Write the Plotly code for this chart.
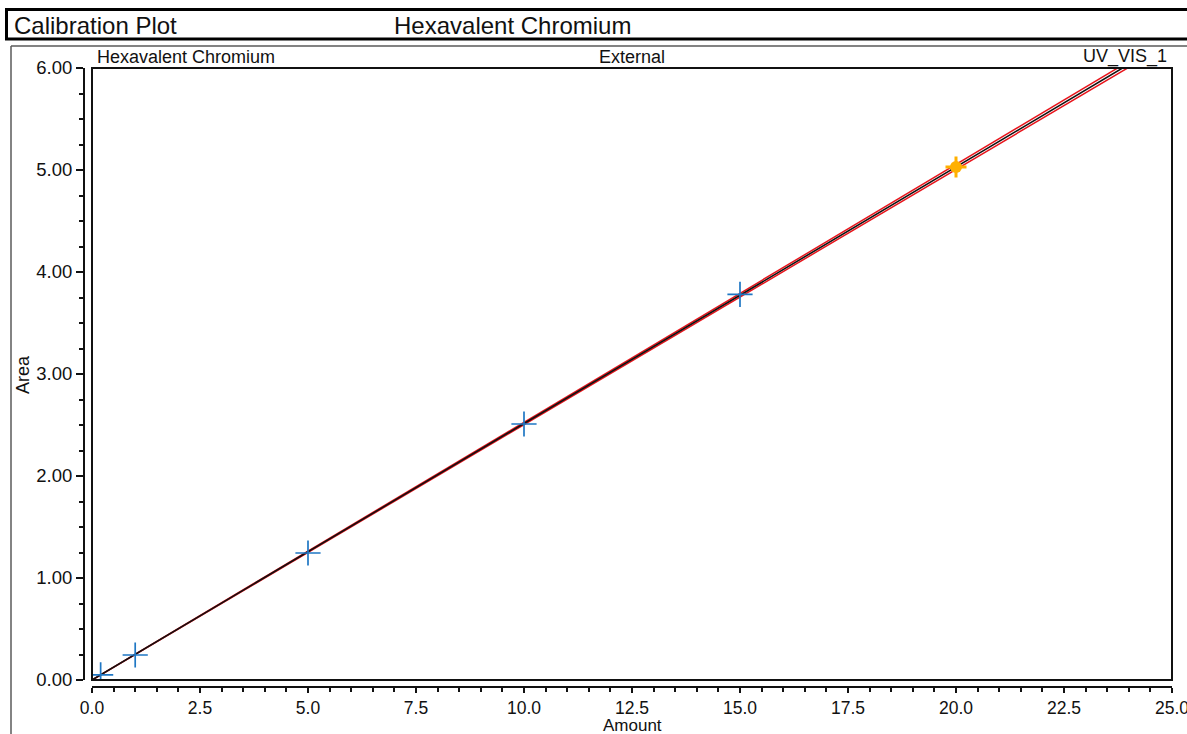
import plotly.graph_objects as go

W, H = 1187, 734

# Calibration standards (amount vs. peak area)
std_amount = [0.2, 1.0, 5.0, 10.0, 15.0]
std_area = [0.05, 0.245, 1.245, 2.51, 3.78]

# Highlighted standard
hl_amount = [20.0]
hl_area = [5.03]

# Linear fit through origin and its confidence limits
fit_amount = [0.0, 25.0]
fit_area = [0.0, 6.2875]
upper_area = [0.0, 6.318]
lower_area = [0.0, 6.257]

x_range = [0, 25]
y_range = [0, 6]

FONT = "Liberation Sans, Arial, sans-serif"


def px(x):
    return x / W


def py(y):
    return 1 - y / H


fig = go.Figure()

fig.add_trace(go.Scatter(x=fit_amount, y=upper_area, mode="lines",
                         line=dict(color="#e8141b", width=1.5), hoverinfo="skip"))
fig.add_trace(go.Scatter(x=fit_amount, y=lower_area, mode="lines",
                         line=dict(color="#e8141b", width=1.5), hoverinfo="skip"))
fig.add_trace(go.Scatter(x=fit_amount, y=fit_area, mode="lines",
                         line=dict(color="#111111", width=1.6), hoverinfo="skip"))

fig.add_trace(go.Scatter(x=hl_amount, y=hl_area, mode="markers",
                         marker=dict(symbol="circle", size=12, color="#ffb000",
                                     line=dict(width=0))))
fig.add_trace(go.Scatter(x=hl_amount, y=hl_area, mode="markers",
                         marker=dict(symbol="cross-thin-open", size=15, color="#ffb000",
                                     line=dict(color="#ffb000", width=3))))

fig.add_trace(go.Scatter(x=std_amount, y=std_area, mode="markers",
                         marker=dict(symbol="cross-thin-open", size=18, color="#1f77c4",
                                     line=dict(color="#1f77c4", width=1.7))))

fig.update_layout(
    width=W, height=H,
    margin=dict(l=0, r=0, t=0, b=0),
    paper_bgcolor="white",
    plot_bgcolor="white",
    showlegend=False,
    xaxis=dict(
        domain=[px(92), px(1172)],
        anchor="free", position=py(687),
        range=x_range, dtick=2.5, tick0=0, tickformat=".1f",
        showgrid=False, zeroline=False,
        showline=True, linecolor="#111111", linewidth=2,
        ticks="outside", ticklen=5, tickwidth=1.5, tickcolor="#111111",
        minor=dict(dtick=0.5, tick0=0, ticks="outside", ticklen=4,
                   tickwidth=1.5, tickcolor="#111111", showgrid=False),
        tickfont=dict(family=FONT, size=17.5, color="#111111"),
        automargin=False, ticklabeloverflow="allow",
    ),
    yaxis=dict(
        domain=[py(680), py(68)],
        anchor="free", position=px(84),
        range=y_range, dtick=1, tick0=0, tickformat=".2f",
        showgrid=False, zeroline=False,
        showline=True, linecolor="#111111", linewidth=2,
        ticks="outside", ticklen=7, tickwidth=1.5, tickcolor="#111111",
        minor=dict(dtick=0.25, tick0=0, ticks="outside", ticklen=4,
                   tickwidth=1.5, tickcolor="#111111", showgrid=False),
        tickfont=dict(family=FONT, size=18.5, color="#111111"),
        automargin=False, ticklabeloverflow="allow",
    ),
)

shapes = [
    # header box
    dict(type="rect", xref="paper", yref="paper",
         x0=px(6.5), x1=px(1200), y0=py(39), y1=py(9.5),
         line=dict(color="black", width=3), fillcolor="rgba(0,0,0,0)"),
    # outer panel border
    dict(type="line", xref="paper", yref="paper",
         x0=px(11), x1=px(1200), y0=py(46), y1=py(46),
         line=dict(color="#5a5a5a", width=1.5)),
    dict(type="line", xref="paper", yref="paper",
         x0=px(11), x1=px(11), y0=py(46), y1=py(740),
         line=dict(color="#5a5a5a", width=1.5)),
    # plot frame
    dict(type="rect", xref="x domain", yref="y domain",
         x0=0, x1=1, y0=0, y1=1,
         line=dict(color="#111111", width=2), fillcolor="rgba(0,0,0,0)"),
]
fig.update_layout(shapes=shapes)

small = dict(family=FONT, size=18, color="#111111")
big = dict(family=FONT, size=24, color="#111111")

annotations = [
    dict(text="Calibration Plot", x=px(12), y=py(25), xanchor="left", yanchor="middle", font=big),
    dict(text="Hexavalent Chromium", x=px(512), y=py(25), xanchor="center", yanchor="middle", font=big),
    dict(text="Hexavalent Chromium", x=px(95), y=py(57), xanchor="left", yanchor="middle", font=small),
    dict(text="External", x=px(632), y=py(57), xanchor="center", yanchor="middle", font=small),
    dict(text="UV_VIS_1", x=px(1169), y=py(57), xanchor="right", yanchor="middle", font=small),
    dict(text="Amount", x=px(632), y=py(725), xanchor="center", yanchor="middle",
         font=dict(family=FONT, size=17, color="#111111")),
    dict(text="Area", x=px(23), y=py(375), xanchor="center", yanchor="middle",
         textangle=-90, font=small),
]
for a in annotations:
    a.update(xref="paper", yref="paper", showarrow=False)
fig.update_layout(annotations=annotations)

fig.write_html("out.html")
